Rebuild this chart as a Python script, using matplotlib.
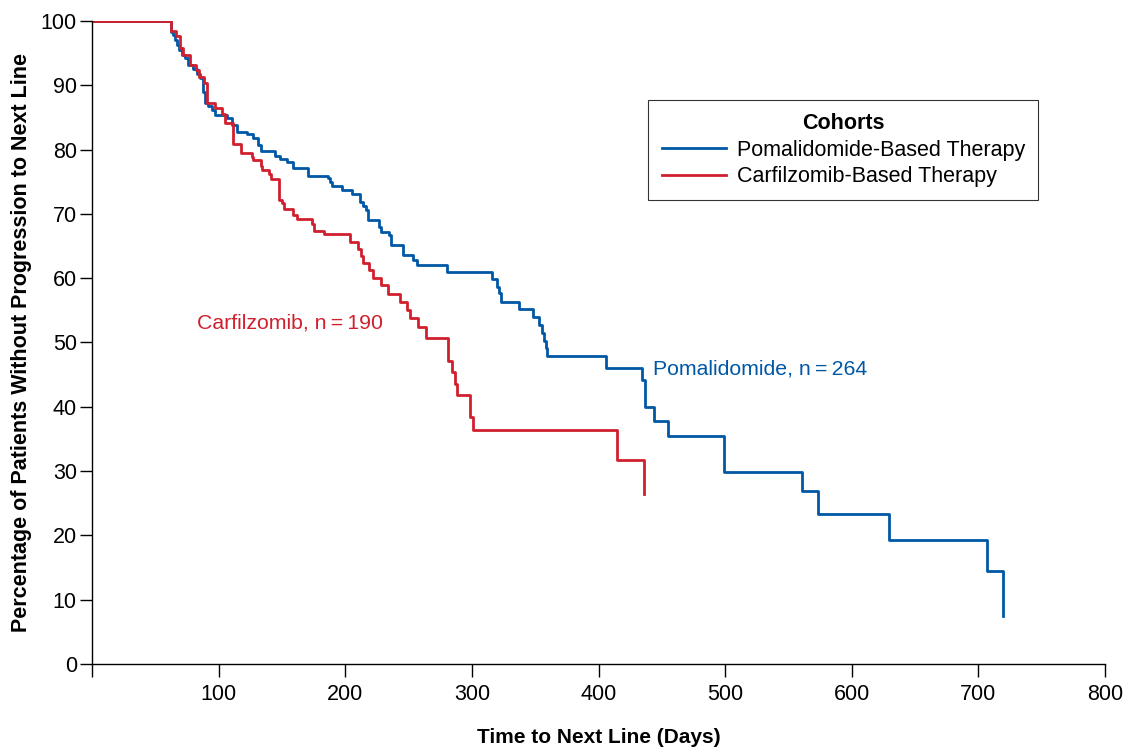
import numpy as np
import matplotlib
matplotlib.use('Agg')
import matplotlib.pyplot as plt

plt.rcParams['font.family'] = ['Liberation Sans', 'DejaVu Sans']

# Kaplan-Meier style step data (day of event, % without progression after event)
pom_days = [0, 62.2, 64.2, 65.6, 66.9, 69.0, 70.8, 73.5, 76.1, 80.0, 82.7, 85.3,
            87.4, 87.9, 89.3, 91.9, 94.5, 97.2, 106.4, 110.3, 114.3, 122.2, 127.2,
            131.1, 133.5, 144.5, 148.5, 153.8, 158.8, 170.4, 186.2, 188.0, 189.6,
            197.2, 205.4, 211.7, 214.0, 216.2, 218.0, 226.7, 228.0, 234.6, 236.0,
            245.9, 253.8, 256.5, 280.2, 315.7, 319.7, 321.5, 322.8, 337.5, 348.0,
            352.6, 355.7, 357.3, 358.4, 359.2, 405.5, 434.7, 436.3, 443.8, 455.2,
            498.9, 560.6, 573.7, 629.0, 706.7, 719.3]
pom_pct = [100, 98.2, 97.8, 97.0, 96.3, 95.5, 94.7, 94.2, 93.2, 92.6, 91.8, 91.1,
           90.6, 89.0, 87.2, 86.7, 86.2, 85.4, 84.9, 83.8, 82.8, 82.4, 81.8,
           80.7, 79.7, 79.0, 78.6, 78.1, 77.2, 75.9, 75.5, 75.0, 74.3,
           73.7, 73.1, 71.9, 71.2, 70.6, 69.0, 68.0, 67.2, 66.7, 65.2,
           63.6, 62.8, 62.0, 61.0, 59.9, 58.7, 57.7, 56.3, 55.2, 53.9,
           52.7, 51.4, 50.2, 49.2, 47.9, 46.1, 44.2, 40.0, 37.8, 35.4,
           29.9, 26.9, 23.3, 19.3, 14.5, 7.4]

carf_days = [0, 62.2, 66.4, 69.5, 71.6, 77.4, 81.9, 84.8, 88.0, 90.6, 97.2, 102.5,
             105.0, 111.0, 117.7, 126.1, 127.4, 133.5, 134.5, 140.0, 141.4, 148.0,
             149.8, 151.6, 159.0, 161.7, 173.5, 175.6, 183.3, 203.8, 210.4, 212.4,
             213.8, 219.0, 222.2, 228.3, 234.0, 243.3, 248.6, 251.2, 257.7, 263.8,
             280.7, 284.0, 286.7, 288.0, 298.6, 301.2, 414.4, 436.0]
carf_pct = [100, 98.5, 97.7, 95.8, 94.7, 93.2, 92.4, 91.3, 90.3, 87.2, 86.4, 85.6,
            84.1, 80.9, 79.5, 78.8, 78.3, 77.5, 76.8, 76.2, 75.4, 72.2,
            71.7, 70.7, 69.8, 69.2, 68.5, 67.3, 66.8, 65.6, 64.5, 63.4,
            62.3, 61.3, 60.1, 58.9, 57.6, 56.3, 55.1, 53.8, 52.4, 50.7,
            47.2, 45.4, 43.6, 41.8, 38.4, 36.4, 31.7, 26.5]

blue = '#0057a6'
red = '#d0202e'

fig = plt.figure(figsize=(11.23, 7.47), dpi=100)
ax = fig.add_axes([0.082, 0.111, 0.902, 0.861])

ax.step(pom_days, pom_pct, where='post', color=blue, lw=2.0,
        label='Pomalidomide-Based Therapy')
ax.step(carf_days, carf_pct, where='post', color=red, lw=2.0,
        label='Carfilzomib-Based Therapy')

ax.set_xlim(0, 800)
ax.set_ylim(0, 100)
ax.set_xticks(np.arange(0, 801, 100))
ax.set_xticklabels([''] + [str(v) for v in range(100, 801, 100)])
ax.set_yticks(np.arange(0, 101, 10))
ax.tick_params(axis='both', labelsize=15.5, length=9, width=1, direction='out')
ax.tick_params(axis='x', pad=5)
ax.tick_params(axis='y', pad=2)
ax.spines['top'].set_visible(False)
ax.spines['right'].set_visible(False)
for s in ['left', 'bottom']:
    ax.spines[s].set_linewidth(1)

ax.set_xlabel('Time to Next Line (Days)', fontsize=15, fontweight='bold', labelpad=17)
ax.set_ylabel('Percentage of Patients Without Progression to Next Line',
              fontsize=15.5, fontweight='bold', labelpad=6)

ax.text(83, 53, 'Carfilzomib, n\u2009=\u2009190', color=red, fontsize=15.3, va='center')
ax.text(443, 45.9, 'Pomalidomide, n\u2009=\u2009264', color=blue, fontsize=15.3, va='center')

leg = ax.legend(title='Cohorts', loc='upper left', bbox_to_anchor=(0.549, 0.877),
                fontsize=15.5, title_fontproperties={'weight': 'bold', 'size': 15.5},
                frameon=True, fancybox=False, edgecolor='black', handlelength=3.0,
                borderpad=0.62, labelspacing=0.25, handletextpad=0.5, borderaxespad=0)
leg.get_frame().set_linewidth(0.8)

fig.savefig('out.png', dpi=100)
